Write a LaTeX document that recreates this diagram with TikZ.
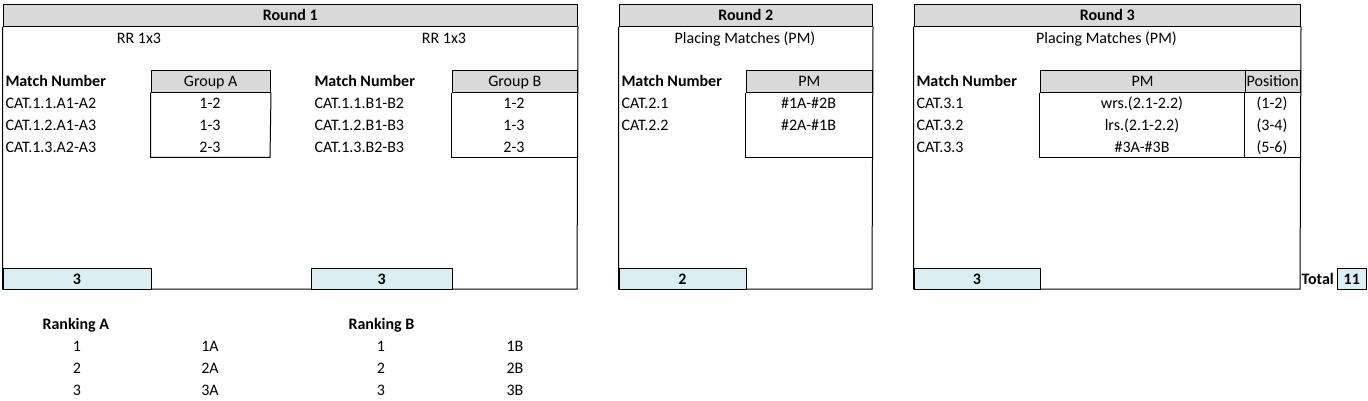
\documentclass[tikz,border=0pt]{standalone}
\usepackage{fontspec}
\setmainfont{Carlito}
\usepackage{xcolor}
\usetikzlibrary{positioning}
\definecolor{headgray}{HTML}{D9D9D9}
\definecolor{sumblue}{HTML}{DAEEF3}

\begin{document}
\begin{tikzpicture}[x=1pt, y=-1pt, line width=1pt,
	every node/.style={inner sep=0pt, text height=10.3pt, text depth=0pt, font=\fontsize{16}{19}\selectfont},
	bold/.style={font=\fontsize{16}{19}\selectfont\bfseries},
	headcell/.style={draw=black, fill=headgray, anchor=north west, minimum height=22},
	sumcell/.style={draw=black, fill=sumblue, anchor=north west, minimum height=21, bold}]

\useasboundingbox (0,0) rectangle (1368,400);

% Round 1
\node[headcell, bold, minimum width=574.5] (r1) at (2.5,3.5) {Round 1};
\draw (r1.south west) -- (2.5,289) -- (577,289) -- (r1.south east);
\node (rrA) at (139,38.5) {RR 1x3};
\node (rrB) at (444,38.5) {RR 1x3};

% Group A
\node[bold, anchor=west] (mnA) at (5,81.5) {Match Number};
\node[headcell, minimum width=119.5] (gA) at (150.5,69.5) {Group A};
\draw (gA.south west) -- (150.5,157.3) -- (270,157.3) -- (gA.south east);
\foreach \m/\g [count=\i] in {A1-A2/1-2, A1-A3/1-3, A2-A3/2-3} {
	\node[anchor=west] (cA\i) at (5,81.5+22*\i) {CAT.1.\i.\m};
	\node (pA\i) at (210,81.5+22*\i) {\g};
}

% Group B
\node[bold, anchor=west] (mnB) at (314,81.5) {Match Number};
\node[headcell, minimum width=125.5] (gB) at (451.5,69.5) {Group B};
\draw (gB.south west) -- (451.5,157.3) -- (577,157.3);
\foreach \m/\g [count=\i] in {B1-B2/1-2, B1-B3/1-3, B2-B3/2-3} {
	\node[anchor=west] (cB\i) at (314,81.5+22*\i) {CAT.1.\i.\m};
	\node (pB\i) at (514,81.5+22*\i) {\g};
}

\node[sumcell, minimum width=148] (nA) at (2.5,268) {3};
\node[sumcell, minimum width=140.5] (nB) at (311,268) {3};

% Round 2
\node[headcell, bold, minimum width=253.5] (r2) at (618.5,3.5) {Round 2};
\draw (r2.south west) -- (618.5,289) -- (872,289) -- (r2.south east);
\node (pm2) at (745,38.5) {Placing Matches (PM)};
\node[bold, anchor=west] (mn2) at (621,81.5) {Match Number};
\node[headcell, minimum width=126.5] (t2) at (745.5,69.5) {PM};
\draw (t2.south west) -- (745.5,157.3) -- (872,157.3);
\foreach \g [count=\i] in {\#1A-\#2B, \#2A-\#1B} {
	\node[anchor=west] (c2\i) at (621,81.5+22*\i) {CAT.2.\i};
	\node (p2\i) at (808.5,81.5+22*\i) {\g};
}
\node[sumcell, minimum width=127] (n2) at (618.5,268) {2};

% Round 3
\node[headcell, bold, minimum width=386.5] (r3) at (913.5,3.5) {Round 3};
\draw (r3.south west) -- (913.5,289) -- (1300,289) -- (r3.south east);
\node (pm3) at (1106.5,38.5) {Placing Matches (PM)};
\node[bold, anchor=west] (mn3) at (916,81.5) {Match Number};
\node[headcell, minimum width=205] (t3) at (1039.5,69.5) {PM};
\node[headcell, minimum width=55.5] (pos3) at (1244.5,69.5) {Position};
\draw (t3.south west) -- (1039.5,157.3) -- (1300,157.3);
\draw (pos3.south west) -- (1244.5,157.3);
\foreach \g/\p [count=\i] in {wrs.(2.1-2.2)/(1-2), lrs.(2.1-2.2)/(3-4), \#3A-\#3B/(5-6)} {
	\node[anchor=west] (c3\i) at (916,81.5+22*\i) {CAT.3.\i};
	\node (p3\i) at (1142,81.5+22*\i) {\g};
	\node (q3\i) at (1272,81.5+22*\i) {\p};
}
\node[sumcell, minimum width=126] (n3) at (913.5,268) {3};

% Total
\node[bold, anchor=west] (total) at (1301,279) {Total};
\node[sumcell, minimum width=28.5] (sum) at (1337,268) {11};

% Rankings
\node[bold, anchor=west] (rkA) at (42,324.5) {Ranking A};
\node[bold, anchor=west] (rkB) at (348,324.5) {Ranking B};
\foreach \i in {1,2,3} {
	\node (rA\i) at (77,324.5+22*\i) {\i};
	\node (sA\i) at (210,324.5+22*\i) {\i A};
	\node (rB\i) at (381,324.5+22*\i) {\i};
	\node (sB\i) at (515,324.5+22*\i) {\i B};
}
\end{tikzpicture}
\end{document}
